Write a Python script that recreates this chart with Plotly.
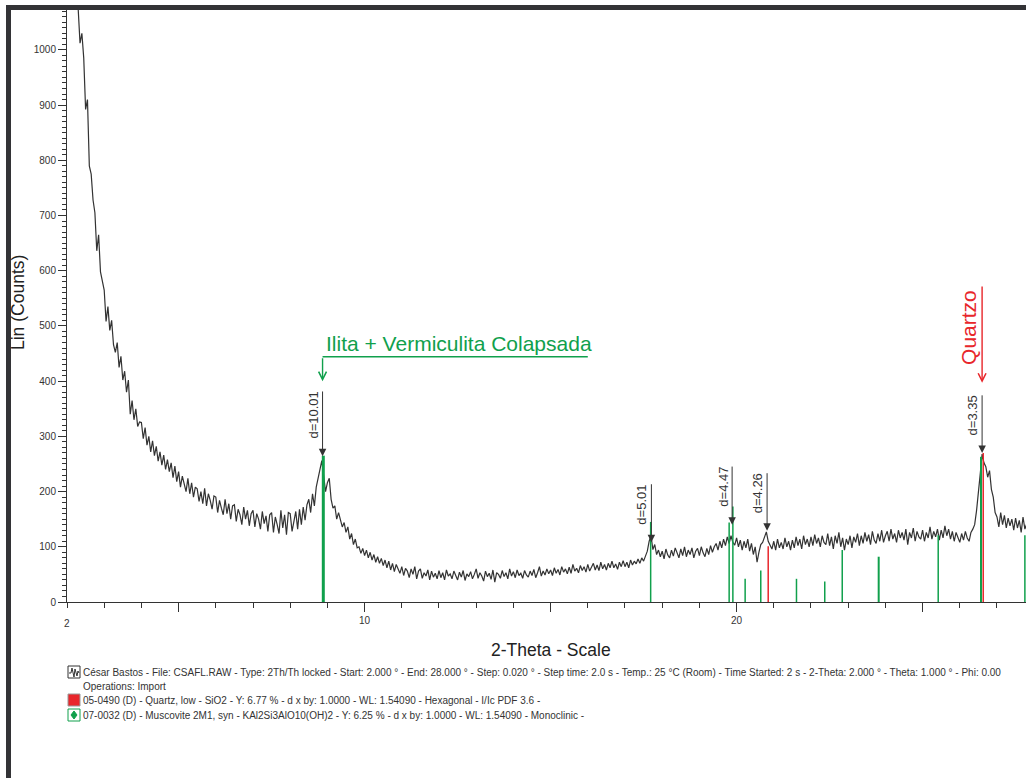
import plotly.graph_objects as go

# ---------------- data ----------------
start_2theta = 2.0
step_2theta = 0.05
counts = [
    # 2.00
    1420, 1370, 1300, 1250, 1190, 1140, 1075, 1012, 1030, 985,
    # 2.50
    892, 910, 790, 775, 728, 705, 636, 665, 598, 580,
    # 3.00
    565, 508, 535, 492, 510, 466, 452, 470, 425, 445,
    # 3.50
    402, 418, 380, 402, 340, 365, 330, 350, 318, 326,
    # 4.00
    325, 296, 316, 284, 300, 272, 292, 265, 282, 255,
    # 4.50
    272, 248, 266, 240, 258, 236, 252, 225, 246, 218,
    # 5.00
    236, 208, 228, 214, 200, 224, 196, 216, 190, 208,
    # 5.50
    205, 182, 200, 178, 206, 174, 196, 184, 168, 192,
    # 6.00
    190, 162, 184, 170, 158, 186, 160, 178, 150, 174,
    # 6.50
    176, 146, 168, 158, 140, 172, 150, 166, 138, 160,
    # 7.00
    166, 136, 160, 150, 132, 164, 142, 156, 128, 158,
    # 7.50
    162, 126, 154, 140, 124, 166, 134, 158, 122, 162,
    # 8.00
    160, 128, 150, 164, 132, 168, 140, 172, 148, 176,
    # 8.50
    186, 162, 196, 174, 208, 226, 240, 256, 228, 200,
    # 9.00
    216, 224, 186, 170, 174, 150, 162, 146, 136, 144,
    # 9.50
    126, 136, 114, 124, 104, 114, 98, 100, 88, 97,
    # 10.00
    84, 94, 80, 90, 76, 86, 72, 82, 70, 79,
    # 10.50
    66, 76, 62, 74, 58, 70, 55, 68, 60, 52,
    # 11.00
    64, 48, 61, 56, 44, 60, 50, 64, 42, 56,
    # 11.50
    60, 43, 53, 47, 58, 40, 56, 45, 52, 42,
    # 12.00
    57, 44, 53, 40, 58, 47, 51, 42, 56, 46,
    # 12.50
    40, 54, 45, 57, 39, 51, 46, 55, 42, 50,
    # 13.00
    60, 43, 53, 47, 38, 56, 46, 52, 41, 58,
    # 13.50
    36, 53, 50, 43, 57, 46, 53, 42, 60, 47,
    # 14.00
    55, 44, 58, 48, 52, 43, 57, 49, 45, 56,
    # 14.50
    48, 59, 44, 53, 64, 47, 56, 49, 60, 51,
    # 15.00
    58, 48, 62, 52, 59, 49, 64, 54, 60, 51,
    # 15.50
    63, 52, 68, 56, 61, 53, 66, 57, 64, 54,
    # 16.00
    68, 56, 64, 70, 58, 67, 57, 72, 60, 68,
    # 16.50
    58, 70, 62, 74, 62, 69, 59, 72, 64, 75,
    # 17.00
    64, 72, 62, 76, 67, 74, 69, 78, 70, 80,
    # 17.50
    74, 84, 92, 110, 120, 95, 104, 86, 94, 82,
    # 18.00
    92, 78, 96, 85, 80, 94, 83, 98, 87, 80,
    # 18.50
    96, 84, 100, 82, 94, 86, 98, 80, 92, 97,
    # 19.00
    84, 100, 89, 82, 97, 86, 102, 90, 100, 106,
    # 19.50
    94, 110, 98, 114, 102, 118, 106, 120, 108, 103,
    # 20.00
    116, 100, 112, 94, 110, 98, 114, 92, 106, 86,
    # 20.50
    100, 72, 90, 104, 108, 120, 127, 110, 102, 96,
    # 21.00
    110, 94, 114, 98, 108, 96, 116, 100, 110, 94,
    # 21.50
    112, 98, 118, 102, 114, 96, 120, 104, 114, 100,
    # 22.00
    118, 102, 122, 106, 116, 100, 120, 108, 104, 124,
    # 22.50
    102, 118, 96, 120, 106, 126, 100, 116, 94, 114,
    # 23.00
    104, 120, 98, 118, 108, 124, 102, 120, 106, 126,
    # 23.50
    110, 122, 104, 128, 112, 106, 124, 110, 130, 108,
    # 24.00
    120, 128, 110, 132, 114, 124, 108, 130, 116, 126,
    # 24.50
    112, 132, 104, 126, 116, 134, 110, 128, 118, 114,
    # 25.00
    130, 110, 126, 116, 136, 114, 128, 118, 132, 112,
    # 25.50
    130, 116, 138, 120, 132, 114, 128, 110, 126, 116,
    # 26.00
    108, 124, 112, 128, 116, 110, 126, 132, 140, 165,
    # 26.50
    205, 232, 268, 252, 245, 226, 238, 204, 190, 162,
    # 27.00
    154, 136, 162, 140, 157, 134, 152, 138, 150, 130,
    # 27.50
    152, 134, 148, 126, 154, 132, 142,
]
two_theta = [round(start_2theta + step_2theta * i, 3) for i in range(len(counts))]

# reference patterns (stick positions 2-theta, heights in counts)
muscovite_pos = [8.89, 17.69, 19.80, 19.90, 20.23, 20.65, 21.61, 22.37, 22.84, 23.82, 25.42, 26.57, 27.75]
muscovite_int = [265, 145, 144, 173, 42, 57, 42, 37, 94, 82, 121, 263, 121]
quartz_pos = [20.85, 26.63]
quartz_int = [101, 270]

# d-spacing peak labels
d_labels = ["d=10.01", "d=5.01", "d=4.47", "d=4.26", "d=3.35"]
d_pos = [8.87, 17.71, 19.88, 20.82, 26.60]
d_tip = [264, 108, 140, 129, 270]
d_top = [384, 216, 248, 236, 377]

x_ticks = [5, 10, 15, 20, 25]
x_ticklabels = ["", "10", "", "20", ""]

legend_rows = [
    "César Bastos - File: CSAFL.RAW - Type: 2Th/Th locked - Start: 2.000 ° - End: 28.000 ° - Step: 0.020 ° - Step time: 2.0 s - Temp.: 25 °C (Room) - Time Started: 2 s - 2-Theta: 2.000 ° - Theta: 1.000 ° - Phi: 0.00",
    "Operations: Import",
    "05-0490 (D) - Quartz, low - SiO2 - Y: 6.77 % - d x by: 1.0000 - WL: 1.54090 - Hexagonal - I/Ic PDF 3.6 -",
    "07-0032 (D) - Muscovite 2M1, syn - KAl2Si3AlO10(OH)2 - Y: 6.25 % - d x by: 1.0000 - WL: 1.54090 - Monoclinic -",
]

# ---------------- styling ----------------
W, H = 1026, 778
ML, MR, MT, MB = 67, 0, 9, 176
PW, PH = W - ML - MR, H - MT - MB
FONT = "Liberation Sans, Arial, sans-serif"
DARK = "#333333"
GREEN = "#10a04c"
RED = "#e8262b"
muscovite_width = [3, 1.5, 1.5, 1.5, 1.5, 1.5, 1.5, 1.5, 1.5, 2, 1.5, 2, 1.5]
quartz_width = [1.5, 1.5]


def px(xp):
    return (xp - ML) / PW


def py(yp):
    return (H - MB - yp) / PH


fig = go.Figure()
fig.add_trace(go.Scatter(x=two_theta, y=counts, mode="lines",
                         line=dict(color=DARK, width=1.2), hoverinfo="skip"))


def add_sticks(pos, ints, widths, color):
    for p, h, w in zip(pos, ints, widths):
        fig.add_trace(go.Scatter(x=[p, p], y=[0, h], mode="lines",
                                 line=dict(color=color, width=w), hoverinfo="skip"))


add_sticks(muscovite_pos, muscovite_int, muscovite_width, GREEN)
add_sticks(quartz_pos, quartz_int, quartz_width, RED)

ann = []
shapes = []
for lab, p, tip, top in zip(d_labels, d_pos, d_tip, d_top):
    ann.append(dict(x=p, y=tip, ax=p, ay=top, xref="x", yref="y", axref="x", ayref="y",
                    text="", showarrow=True, arrowhead=2, arrowsize=1.5, arrowwidth=1,
                    arrowcolor=DARK))
    ann.append(dict(x=p, y=top, xref="x", yref="y", text=lab, textangle=-90,
                    xanchor="right", yanchor="top", xshift=0, showarrow=False,
                    font=dict(family=FONT, size=13, color=DARK)))

# Ilita + Vermiculita Colapsada
ilita_x, ilita_y, ilita_tip, ilita_end = 8.87, 444, 400, 16.0
shapes.append(dict(type="line", xref="x", yref="y", x0=ilita_x, x1=ilita_end,
                   y0=ilita_y, y1=ilita_y, line=dict(color=GREEN, width=1.5)))
ann.append(dict(x=ilita_x, y=ilita_tip, ax=ilita_x, ay=ilita_y, xref="x", yref="y",
                axref="x", ayref="y", text="", showarrow=True, arrowhead=5,
                arrowsize=1.1, arrowwidth=1.4, arrowcolor=GREEN))
ann.append(dict(x=ilita_x, y=ilita_y, xref="x", yref="y", text="Ilita + Vermiculita Colapsada",
                xanchor="left", yanchor="bottom", xshift=1, showarrow=False,
                font=dict(family=FONT, size=21, color=GREEN)))

# Quartzo
q_x, q_top, q_tip, q_text_top = 26.60, 574, 397, 569
ann.append(dict(x=q_x, y=q_tip, ax=q_x, ay=q_top, xref="x", yref="y",
                axref="x", ayref="y", text="", showarrow=True, arrowhead=5,
                arrowsize=1.1, arrowwidth=1.4, arrowcolor=RED))
ann.append(dict(x=q_x, y=q_text_top, xref="x", yref="y", text="Quartzo", textangle=-90,
                xanchor="right", yanchor="top", xshift=0, showarrow=False,
                font=dict(family=FONT, size=21, color=RED)))

# x label "2"
ann.append(dict(x=2, y=py(623), xref="x", yref="paper", text="2", showarrow=False,
                xanchor="center", yanchor="middle", font=dict(family=FONT, size=10, color=DARK)))

# axis titles
ann.append(dict(x=px(18), y=py(303), xref="paper", yref="paper", text="Lin (Counts)",
                textangle=-90, showarrow=False, xanchor="center", yanchor="middle",
                font=dict(family=FONT, size=17.5, color="#222222")))
ann.append(dict(x=px(551), y=py(650), xref="paper", yref="paper", text="2-Theta - Scale",
                showarrow=False, xanchor="center", yanchor="middle",
                font=dict(family=FONT, size=17.5, color="#222222")))

# legend rows
row_y = [672, 686, 700, 715]
for txt, yy in zip(legend_rows, row_y):
    ann.append(dict(x=px(81), y=py(yy), xref="paper", yref="paper", text=txt,
                    showarrow=False, xanchor="left", yanchor="middle",
                    font=dict(family=FONT, size=10, color=DARK)))

# legend icons
shapes.append(dict(type="rect", xref="paper", yref="paper", x0=px(68), x1=px(80),
                   y0=py(678), y1=py(666), line=dict(color=DARK, width=1), fillcolor="white"))
zig = [(69, 673), (71, 673), (72, 668), (74, 677), (75, 669), (77, 676), (78, 671), (79, 673)]
path = "M " + " L ".join(f"{px(a):.5f},{py(b):.5f}" for a, b in zig)
shapes.append(dict(type="path", xref="paper", yref="paper", path=path,
                   line=dict(color=DARK, width=1)))
shapes.append(dict(type="rect", xref="paper", yref="paper", x0=px(68), x1=px(80),
                   y0=py(706), y1=py(694), line=dict(color="#9a9a9a", width=1), fillcolor=RED))
shapes.append(dict(type="rect", xref="paper", yref="paper", x0=px(68), x1=px(80),
                   y0=py(721), y1=py(709), line=dict(color=GREEN, width=1), fillcolor="white"))
dia = [(74, 711), (77, 715), (74, 719), (71, 715)]
path = "M " + " L ".join(f"{px(a):.5f},{py(b):.5f}" for a, b in dia) + " Z"
shapes.append(dict(type="path", xref="paper", yref="paper", path=path,
                   line=dict(color=GREEN, width=1), fillcolor=GREEN))

# outer dark frame (left and top)
shapes.append(dict(type="rect", xref="paper", yref="paper", x0=px(6), x1=px(11),
                   y0=py(778), y1=py(5), line=dict(width=0), fillcolor="#333336"))
shapes.append(dict(type="rect", xref="paper", yref="paper", x0=px(6), x1=px(1026),
                   y0=py(10), y1=py(5), line=dict(width=0), fillcolor="#333336"))

fig.update_layout(
    width=W, height=H,
    margin=dict(l=ML, r=MR, t=MT, b=MB, pad=0),
    paper_bgcolor="white", plot_bgcolor="white",
    showlegend=False,
    font=dict(family=FONT, size=10, color=DARK),
    annotations=ann, shapes=shapes,
    xaxis=dict(range=[2, 27.78], showgrid=False, zeroline=False, showline=True,
               linecolor=DARK, linewidth=1, ticks="outside", ticklen=9, tickwidth=1,
               tickcolor=DARK, tickvals=x_ticks, ticktext=x_ticklabels,
               tickfont=dict(family=FONT, size=10, color=DARK),
               minor=dict(dtick=1, tick0=0, ticks="outside", ticklen=5, tickcolor=DARK)),
    yaxis=dict(range=[0, 1074], showgrid=False, zeroline=False, showline=True,
               linecolor=DARK, linewidth=1, ticks="outside", ticklen=8, tickwidth=1,
               tickcolor=DARK, dtick=100, tick0=0,
               tickfont=dict(family=FONT, size=10, color=DARK),
               minor=dict(dtick=10, tick0=0, ticks="outside", ticklen=4, tickcolor=DARK)),
)

fig.write_html("out.html")
